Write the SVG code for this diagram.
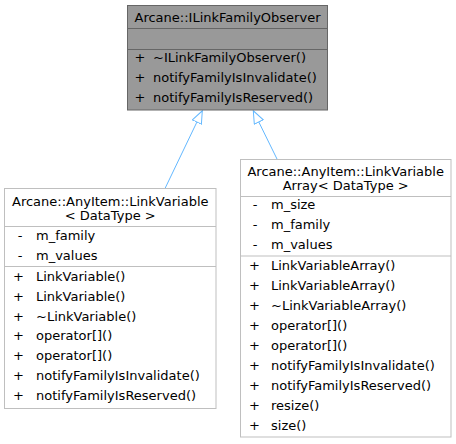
<svg xmlns="http://www.w3.org/2000/svg" width="456" height="444" viewBox="0 0 456 444">
<defs>
<style>
text{font-family:"DejaVu Sans","Liberation Sans",sans-serif;font-size:13px;fill:#000}
.c{text-anchor:middle}
.base{fill:#999999;stroke:#666666;stroke-width:1}
.cls{fill:#ffffff;stroke:#bfbfbf;stroke-width:1}
.sepd{stroke:#666666;stroke-width:1}
.sepl{stroke:#bfbfbf;stroke-width:1}
.edge{stroke:#63b8ff;stroke-width:1;fill:none}
</style>
<marker id="inh" viewBox="0 0 14 11" refX="13" refY="5.5" markerWidth="14" markerHeight="11" markerUnits="userSpaceOnUse" orient="auto">
<path d="M0.5,0.5 L13,5.5 L0.5,10.5 Z" fill="#ffffff" stroke="#63b8ff" stroke-width="1"/>
</marker>
</defs>
<rect width="456" height="444" fill="#ffffff"/>
<g id="connectors">
<line class="edge" x1="165" y1="188.5" x2="202.3" y2="110.8" marker-end="url(#inh)"/>
<line class="edge" x1="277" y1="159" x2="253.3" y2="110.8" marker-end="url(#inh)"/>
</g>
<g id="ILinkFamilyObserver">
<rect class="base" x="127.5" y="5.5" width="200" height="104.5"/>
<line class="sepd" x1="127.5" y1="28.5" x2="327.5" y2="28.5"/>
<line class="sepd" x1="127.5" y1="49.5" x2="327.5" y2="49.5"/>
<text class="c" x="227.5" y="22">Arcane::ILinkFamilyObserver</text>
<text class="c" x="140" y="62">+</text><text x="153" y="62">~ILinkFamilyObserver()</text>
<text class="c" x="140" y="82">+</text><text x="153" y="82">notifyFamilyIsInvalidate()</text>
<text class="c" x="140" y="102">+</text><text x="153" y="102">notifyFamilyIsReserved()</text>
</g>
<g id="LinkVariable">
<rect class="cls" x="4.5" y="188.5" width="211.5" height="220"/>
<line class="sepl" x1="4.5" y1="226.5" x2="216" y2="226.5"/>
<line class="sepl" x1="4.5" y1="266.5" x2="216" y2="266.5"/>
<text class="c" x="110.25" y="206">Arcane::AnyItem::LinkVariable</text>
<text class="c" x="110.25" y="220">&lt; DataType &gt;</text>
<text class="c" x="20" y="239.5">-</text><text x="36" y="239.5">m_family</text>
<text class="c" x="20" y="260">-</text><text x="36" y="260">m_values</text>
<text class="c" x="18.5" y="280.5">+</text><text x="36" y="280.5">LinkVariable()</text>
<text class="c" x="18.5" y="300.5">+</text><text x="36" y="300.5">LinkVariable()</text>
<text class="c" x="18.5" y="320.5">+</text><text x="36" y="320.5">~LinkVariable()</text>
<text class="c" x="18.5" y="340">+</text><text x="36" y="340">operator[]()</text>
<text class="c" x="18.5" y="360">+</text><text x="36" y="360">operator[]()</text>
<text class="c" x="18.5" y="379.5">+</text><text x="36" y="379.5">notifyFamilyIsInvalidate()</text>
<text class="c" x="18.5" y="399.5">+</text><text x="36" y="399.5">notifyFamilyIsReserved()</text>
</g>
<g id="LinkVariableArray">
<rect class="cls" x="240.5" y="159.5" width="210.5" height="277.5"/>
<line class="sepl" x1="240.5" y1="196.5" x2="451" y2="196.5"/>
<line class="sepl" x1="240.5" y1="256" x2="451" y2="256"/>
<text class="c" x="345.7" y="176">Arcane::AnyItem::LinkVariable</text>
<text class="c" x="345.7" y="190">Array&lt; DataType &gt;</text>
<text class="c" x="255" y="209">-</text><text x="271" y="209">m_size</text>
<text class="c" x="255" y="229">-</text><text x="271" y="229">m_family</text>
<text class="c" x="255" y="249">-</text><text x="271" y="249">m_values</text>
<text class="c" x="254.5" y="269.5">+</text><text x="271" y="269.5">LinkVariableArray()</text>
<text class="c" x="254.5" y="289.5">+</text><text x="271" y="289.5">LinkVariableArray()</text>
<text class="c" x="254.5" y="309.5">+</text><text x="271" y="309.5">~LinkVariableArray()</text>
<text class="c" x="254.5" y="329.5">+</text><text x="271" y="329.5">operator[]()</text>
<text class="c" x="254.5" y="349.5">+</text><text x="271" y="349.5">operator[]()</text>
<text class="c" x="254.5" y="369.5">+</text><text x="271" y="369.5">notifyFamilyIsInvalidate()</text>
<text class="c" x="254.5" y="389.5">+</text><text x="271" y="389.5">notifyFamilyIsReserved()</text>
<text class="c" x="254.5" y="409.5">+</text><text x="271" y="409.5">resize()</text>
<text class="c" x="254.5" y="429.5">+</text><text x="271" y="429.5">size()</text>
</g>
</svg>
